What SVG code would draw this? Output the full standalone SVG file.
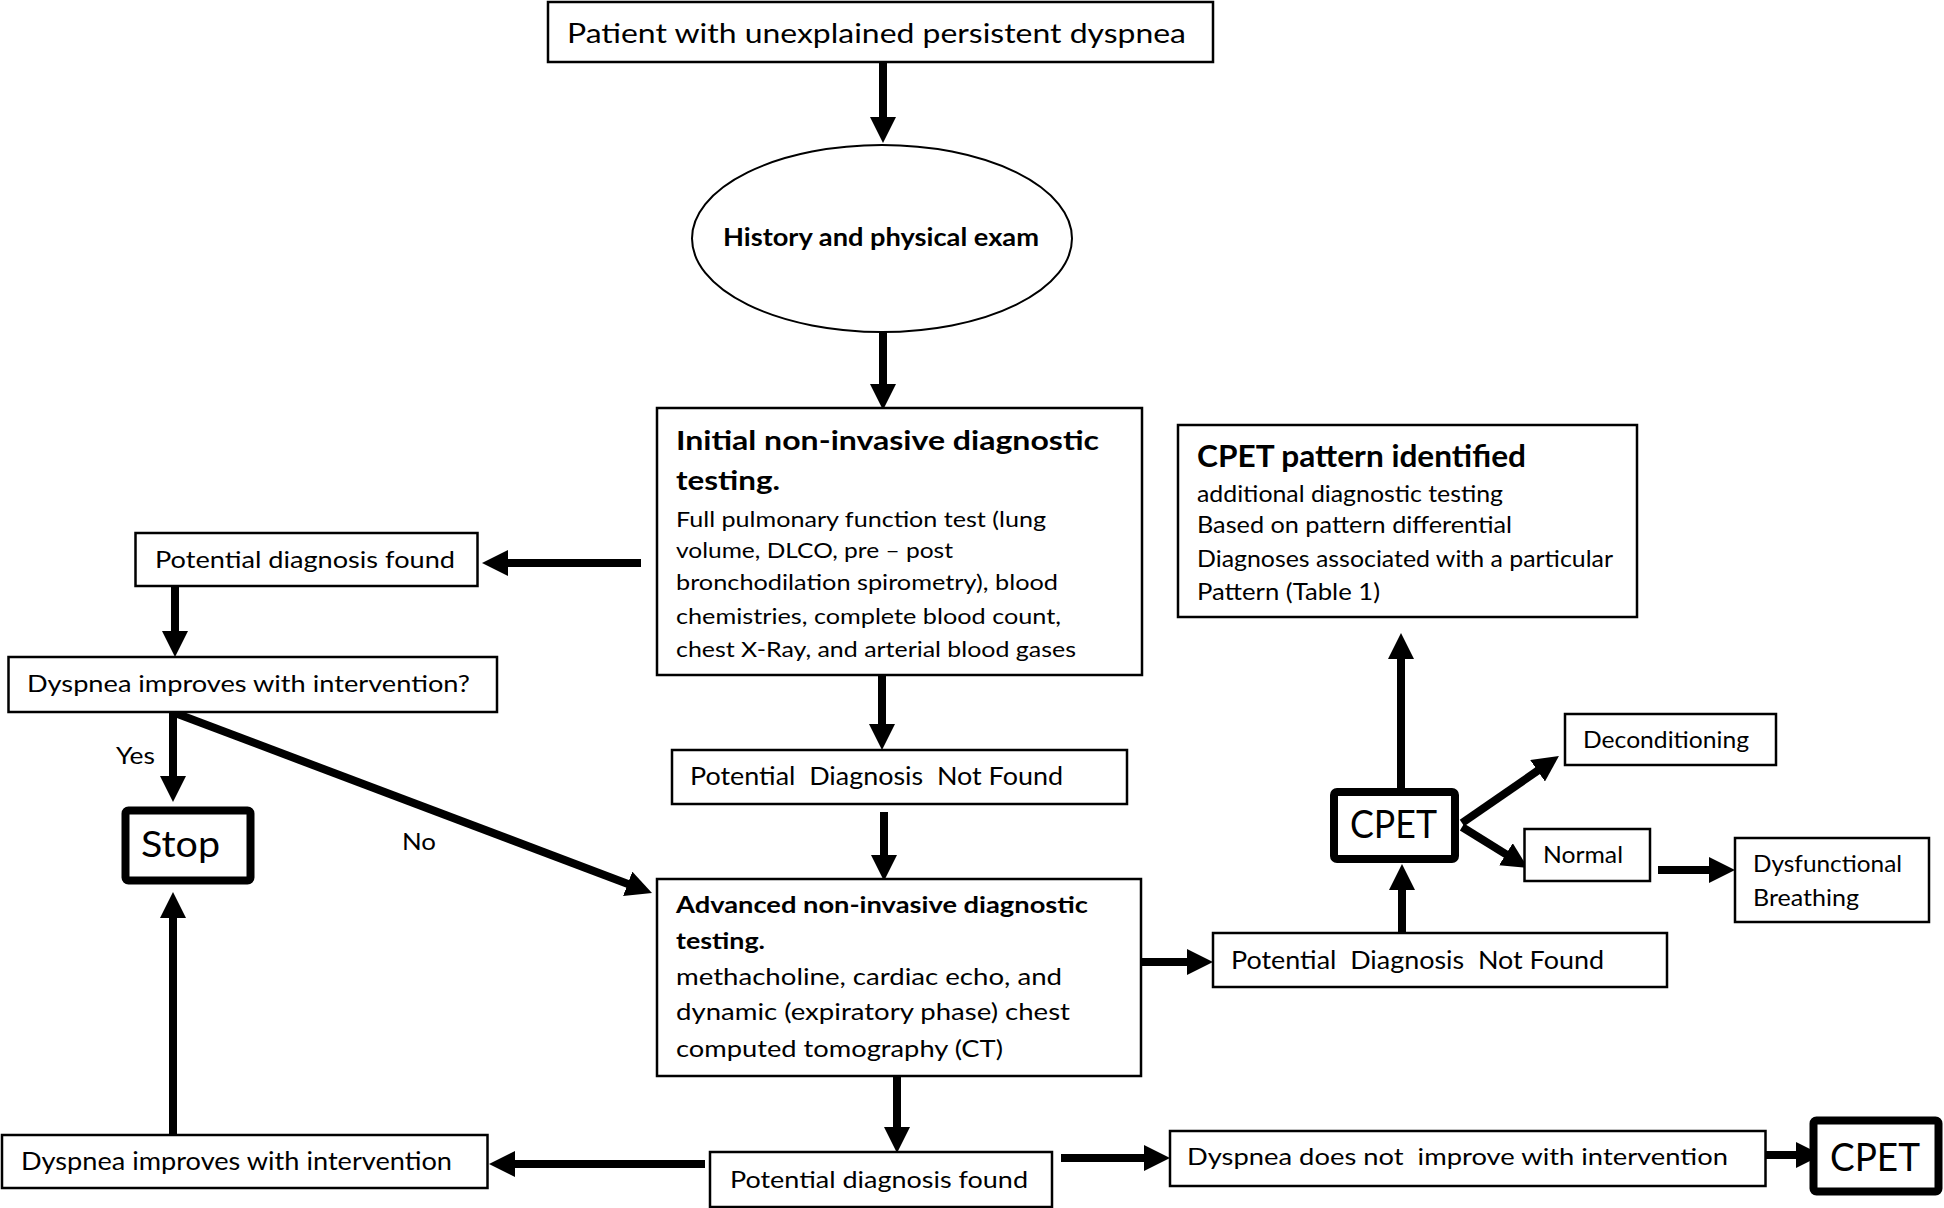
<svg xmlns="http://www.w3.org/2000/svg" width="1944" height="1208" viewBox="0 0 1944 1208">
<style>
.box{fill:#fff;stroke:#000;stroke-width:2.5}
.thick{fill:#fff;stroke:#000;stroke-width:8}
.t{font-family:Lato,"Liberation Sans",sans-serif;fill:#000;white-space:pre}
.b{font-weight:bold}
.c{fill:none;stroke:#000;stroke-width:8}
</style>
<defs>
<marker id="ah" markerUnits="userSpaceOnUse" markerWidth="26" markerHeight="26" viewBox="0 0 26 26" refX="6" refY="13" orient="auto">
<path d="M0,0 L26,13 L0,26 z" fill="#000"/>
</marker>
</defs>
<rect width="1944" height="1208" fill="#fff"/>

<g id="connectors">
<line class="c" x1="883" y1="62" x2="883" y2="123" marker-end="url(#ah)"/>
<line class="c" x1="883" y1="332" x2="883" y2="390" marker-end="url(#ah)"/>
<line class="c" x1="882" y1="675" x2="882" y2="730" marker-end="url(#ah)"/>
<line class="c" x1="884" y1="812" x2="884" y2="861" marker-end="url(#ah)"/>
<line class="c" x1="897" y1="1076" x2="897" y2="1133" marker-end="url(#ah)"/>
<line class="c" x1="641" y1="563" x2="502" y2="563" marker-end="url(#ah)"/>
<line class="c" x1="175" y1="586" x2="175" y2="637" marker-end="url(#ah)"/>
<line class="c" x1="173" y1="712" x2="173" y2="782" marker-end="url(#ah)"/>
<line class="c" x1="175" y1="713" x2="633.3" y2="885.9" marker-end="url(#ah)"/>
<line class="c" x1="173" y1="1135" x2="173" y2="912" marker-end="url(#ah)"/>
<line class="c" x1="705" y1="1164" x2="509" y2="1164" marker-end="url(#ah)"/>
<line class="c" x1="1061" y1="1158" x2="1150" y2="1158" marker-end="url(#ah)"/>
<line class="c" x1="1765" y1="1155" x2="1802" y2="1155" marker-end="url(#ah)"/>
<line class="c" x1="1142" y1="962" x2="1193" y2="962" marker-end="url(#ah)"/>
<line class="c" x1="1402" y1="933" x2="1402" y2="884" marker-end="url(#ah)"/>
<line class="c" x1="1401" y1="788" x2="1401" y2="653" marker-end="url(#ah)"/>
<line class="c" x1="1462" y1="823" x2="1542.5" y2="767.4" marker-end="url(#ah)"/>
<line class="c" x1="1462" y1="827" x2="1511" y2="857.4" marker-end="url(#ah)"/>
<line class="c" x1="1658" y1="870" x2="1715" y2="870" marker-end="url(#ah)"/>
<text class="t" x="116" y="764" font-size="24" textLength="39" lengthAdjust="spacingAndGlyphs">Yes</text>
<text class="t" x="402" y="850" font-size="24" textLength="34" lengthAdjust="spacingAndGlyphs">No</text>
</g>

<g id="n-patient">
<rect class="box" x="548" y="2" width="665" height="60"/>
<text class="t" x="567" y="43" font-size="27" textLength="619" lengthAdjust="spacingAndGlyphs">Patient with unexplained persistent dyspnea</text>
</g>

<g id="n-history">
<ellipse cx="882" cy="238.5" rx="190" ry="93.5" fill="#fff" stroke="#000" stroke-width="2"/>
<text class="t b" x="723" y="246" font-size="24" textLength="316" lengthAdjust="spacingAndGlyphs">History and physical exam</text>
</g>

<g id="n-initial">
<rect class="box" x="657" y="408" width="485" height="267"/>
<text class="t b" x="676" y="450" font-size="26" textLength="423" lengthAdjust="spacingAndGlyphs">Initial non-invasive diagnostic</text>
<text class="t b" x="676" y="490" font-size="26" textLength="104" lengthAdjust="spacingAndGlyphs">testing.</text>
<text class="t" x="676" y="527" font-size="21.5" textLength="370" lengthAdjust="spacingAndGlyphs">Full pulmonary function test (lung</text>
<text class="t" x="676" y="558" font-size="21.5" textLength="277" lengthAdjust="spacingAndGlyphs">volume, DLCO, pre – post</text>
<text class="t" x="676" y="590" font-size="21.5" textLength="382" lengthAdjust="spacingAndGlyphs">bronchodilation spirometry), blood</text>
<text class="t" x="676" y="624" font-size="21.5" textLength="385" lengthAdjust="spacingAndGlyphs">chemistries, complete blood count,</text>
<text class="t" x="676" y="657" font-size="21.5" textLength="400" lengthAdjust="spacingAndGlyphs">chest X-Ray, and arterial blood gases</text>
</g>

<g id="n-pdnf1">
<rect class="box" x="672" y="750" width="455" height="54"/>
<text class="t" x="690" y="785" font-size="25" textLength="373" lengthAdjust="spacingAndGlyphs">Potential  Diagnosis  Not Found</text>
</g>

<g id="n-advanced">
<rect class="box" x="657" y="879" width="484" height="197"/>
<text class="t b" x="676" y="913" font-size="23.5" textLength="412" lengthAdjust="spacingAndGlyphs">Advanced non-invasive diagnostic</text>
<text class="t b" x="676" y="949" font-size="23.5" textLength="89" lengthAdjust="spacingAndGlyphs">testing.</text>
<text class="t" x="676" y="985" font-size="24" textLength="386" lengthAdjust="spacingAndGlyphs">methacholine, cardiac echo, and</text>
<text class="t" x="676" y="1020" font-size="24" textLength="394" lengthAdjust="spacingAndGlyphs">dynamic (expiratory phase) chest</text>
<text class="t" x="676" y="1057" font-size="24" textLength="327" lengthAdjust="spacingAndGlyphs">computed tomography (CT)</text>
</g>

<g id="n-pdf1">
<rect class="box" x="135.5" y="533" width="342" height="53"/>
<text class="t" x="155" y="568" font-size="24" textLength="300" lengthAdjust="spacingAndGlyphs">Potential diagnosis found</text>
</g>

<g id="n-improves-q">
<rect class="box" x="8.5" y="657" width="488.5" height="55"/>
<text class="t" x="27" y="692" font-size="24" textLength="443" lengthAdjust="spacingAndGlyphs">Dyspnea improves with intervention?</text>
</g>

<g id="n-stop">
<rect class="thick" x="125.5" y="810.5" width="125" height="70" rx="3" stroke-width="7"/>
<text class="t" x="141" y="857" font-size="37" textLength="79" lengthAdjust="spacingAndGlyphs">Stop</text>
</g>

<g id="n-improves">
<rect class="box" x="2" y="1135" width="485.5" height="53"/>
<text class="t" x="21" y="1170" font-size="25" textLength="431" lengthAdjust="spacingAndGlyphs">Dyspnea improves with intervention</text>
</g>

<g id="n-pdf2">
<rect class="box" x="710" y="1152" width="342" height="55"/>
<text class="t" x="730" y="1188" font-size="24" textLength="298" lengthAdjust="spacingAndGlyphs">Potential diagnosis found</text>
</g>

<g id="n-notimprove">
<rect class="box" x="1170" y="1131" width="595.5" height="55"/>
<text class="t" x="1187" y="1165" font-size="24" textLength="541" lengthAdjust="spacingAndGlyphs">Dyspnea does not  improve with intervention</text>
</g>

<g id="n-cpet2">
<rect class="thick" x="1813.5" y="1120.5" width="125" height="71" rx="3" stroke-width="9"/>
<text class="t" x="1830" y="1171" font-size="38" textLength="90" lengthAdjust="spacingAndGlyphs">CPET</text>
</g>

<g id="n-pdnf2">
<rect class="box" x="1213" y="933" width="454" height="54"/>
<text class="t" x="1231" y="969" font-size="25" textLength="373" lengthAdjust="spacingAndGlyphs">Potential  Diagnosis  Not Found</text>
</g>

<g id="n-cpet1">
<rect class="thick" x="1334" y="792" width="121" height="67" rx="3"/>
<text class="t" x="1350" y="838" font-size="38" textLength="87" lengthAdjust="spacingAndGlyphs">CPET</text>
</g>

<g id="n-decond">
<rect class="box" x="1565" y="714" width="211" height="51"/>
<text class="t" x="1583" y="748" font-size="23" textLength="166" lengthAdjust="spacingAndGlyphs">Deconditioning</text>
</g>

<g id="n-normal">
<rect class="box" x="1524.5" y="829" width="125.5" height="52"/>
<text class="t" x="1543" y="863" font-size="23" textLength="80" lengthAdjust="spacingAndGlyphs">Normal</text>
</g>

<g id="n-dysfunctional">
<rect class="box" x="1735" y="838" width="194" height="84"/>
<text class="t" x="1753" y="872" font-size="23" textLength="149" lengthAdjust="spacingAndGlyphs">Dysfunctional</text>
<text class="t" x="1753" y="906" font-size="23" textLength="106" lengthAdjust="spacingAndGlyphs">Breathing</text>
</g>

<g id="n-pattern">
<rect class="box" x="1178" y="425" width="459" height="192"/>
<text class="t b" x="1197" y="467" font-size="30" textLength="329" lengthAdjust="spacingAndGlyphs">CPET pattern identified</text>
<text class="t" x="1197" y="502" font-size="23" textLength="306" lengthAdjust="spacingAndGlyphs">additional diagnostic testing</text>
<text class="t" x="1197" y="533" font-size="23" textLength="315" lengthAdjust="spacingAndGlyphs">Based on pattern differential</text>
<text class="t" x="1197" y="567" font-size="23" textLength="416" lengthAdjust="spacingAndGlyphs">Diagnoses associated with a particular</text>
<text class="t" x="1197" y="600" font-size="23" textLength="183" lengthAdjust="spacingAndGlyphs">Pattern (Table 1)</text>
</g>
</svg>
